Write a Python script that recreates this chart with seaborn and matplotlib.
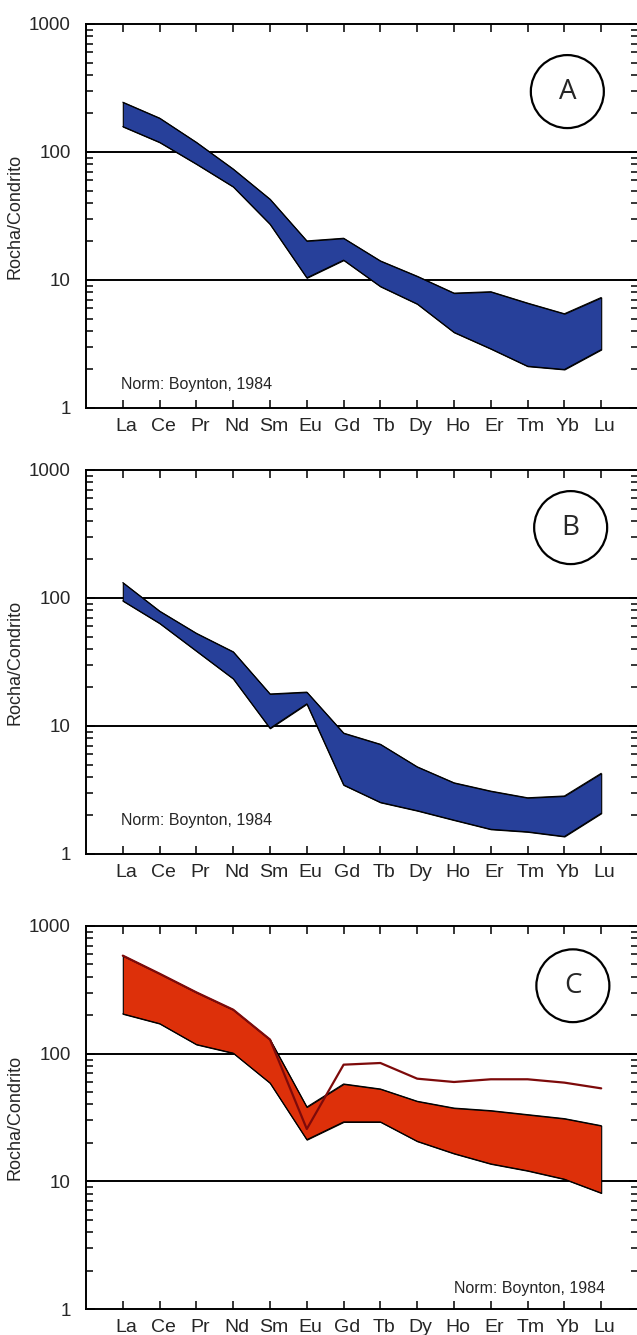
import numpy as np
import pandas as pd
import matplotlib
matplotlib.use("Agg")
import matplotlib.pyplot as plt
import matplotlib.transforms as mtransforms
from matplotlib.patches import Ellipse
from matplotlib.ticker import LogLocator, NullFormatter, FixedLocator
import seaborn as sns

# ------------------------------------------------------------
# Dados
# ------------------------------------------------------------
elements = ["La", "Ce", "Pr", "Nd", "Sm", "Eu", "Gd", "Tb", "Dy", "Ho", "Er", "Tm", "Yb", "Lu"]

a_upper = [245, 184, 119, 73.6, 42.8, 20.2, 21.2, 14.1, 10.7, 7.9, 8.1, 6.6, 5.45, 7.3]
a_lower = [158, 119, 80.5, 53.5, 27.3, 10.4, 14.3, 8.9, 6.5, 3.9, 2.9, 2.12, 2.0, 2.86]

b_upper = [132, 79, 53, 38, 17.8, 18.4, 8.8, 7.2, 4.8, 3.6, 3.1, 2.75, 2.84, 4.27]
b_lower = [95, 63.4, 38.5, 23.4, 9.6, 14.9, 3.46, 2.53, 2.18, 1.84, 1.56, 1.49, 1.37, 2.08]

c_upper = [586, 423, 302, 221, 129, 38.2, 57.9, 52.9, 42.4, 37.5, 35.8, 33.3, 31, 27.3]
c_lower = [205, 172, 118, 101, 58.9, 21.2, 29.2, 29.2, 20.6, 16.5, 13.7, 12.1, 10.4, 8.1]
c_line = [586, 423, 302, 221, 129, 25.7, 82, 84.5, 63.7, 60, 63, 63, 59.3, 53.5]

panel_letters = ["A", "B", "C"]
norm_text = "Norm: Boynton, 1984"

BLUE = "#27409a"
RED = "#dd300a"
MAROON = "#7d0a0a"

# ------------------------------------------------------------
# Estilo
# ------------------------------------------------------------
sns.set_style("ticks")
plt.rcParams["font.family"] = ["Liberation Sans", "DejaVu Sans"]

W, H = 637, 1335
fig = plt.figure(figsize=(W / 100, H / 100), dpi=100)

left = 86 / W
width = (638 - 86) / W
panels = [
    # (topo px, base px)
    (24, 408),
    (470, 854),
    (926, 1309),
]

x = np.arange(len(elements))


def montar_eixo(ax):
    ax.set_yscale("log")
    ax.set_ylim(1, 1000)
    ax.set_xlim(-1, len(elements))
    for sp in ax.spines.values():
        sp.set_linewidth(1.4)
        sp.set_color("black")
        sp.set_visible(True)
    ax.axhline(10, color="black", lw=1.4, zorder=1)
    ax.axhline(100, color="black", lw=1.4, zorder=1)

    ax.xaxis.set_major_locator(FixedLocator(x))
    ax.set_xticklabels(elements, fontsize=14)
    ax.tick_params(axis="x", which="major", direction="in", top=True, bottom=True,
                   length=6, width=1.3, pad=7)
    ax.yaxis.set_major_locator(FixedLocator([1, 10, 100, 1000]))
    ax.set_yticklabels(["1", "10", "100", "1000"], fontsize=13.5)
    ax.yaxis.set_minor_locator(LogLocator(base=10, subs=np.arange(2, 10)))
    ax.yaxis.set_minor_formatter(NullFormatter())
    ax.tick_params(axis="y", which="major", direction="in", left=True, right=True,
                   length=6.5, width=1.3, pad=11)
    ax.tick_params(axis="y", which="minor", direction="in", left=True, right=True,
                   length=5, width=1.3)
    ax.set_xlabel("")
    ax.set_ylabel("Rocha/Condrito", fontsize=13, labelpad=4)

    desloc = mtransforms.ScaledTranslation(0.035, 0, fig.dpi_scale_trans)
    for lab in ax.get_xticklabels():
        lab.set_transform(lab.get_transform() + desloc)


def banda(ax, upper, lower, cor):
    df = pd.DataFrame({
        "pos": np.concatenate([x, x]),
        "valor": upper + lower,
        "limite": ["sup"] * len(x) + ["inf"] * len(x),
    })
    ax.fill_between(x, lower, upper, facecolor=cor, edgecolor="black",
                    linewidth=0.8, zorder=2)
    sns.lineplot(data=df, x="pos", y="valor", hue="limite",
                 palette={"sup": "black", "inf": "black"}, linewidth=0.8,
                 legend=False, ax=ax, zorder=3)


def circulo(ax, cx, cy, letra):
    ell = Ellipse((cx, cy), 73 / 552, 73 / 384, transform=ax.transAxes,
                  facecolor="white", edgecolor="black", linewidth=1.6, zorder=5)
    ax.add_patch(ell)
    ax.text(cx, cy, letra, transform=ax.transAxes, ha="center", va="center",
            fontsize=20, family=["Open Sans", "DejaVu Sans"], zorder=6)


axes = []
for top, bot in panels:
    ax = fig.add_axes([left, (H - bot) / H, width, (bot - top) / H])
    axes.append(ax)

# Painel A
banda(axes[0], a_upper, a_lower, BLUE)
montar_eixo(axes[0])
circulo(axes[0], 0.872, 0.824, panel_letters[0])
axes[0].text(0.063, 0.049, norm_text, transform=axes[0].transAxes, fontsize=11.5,
             ha="left", va="baseline")

# Painel B
banda(axes[1], b_upper, b_lower, BLUE)
montar_eixo(axes[1])
circulo(axes[1], 0.878, 0.850, panel_letters[1])
axes[1].text(0.063, 0.0755, norm_text, transform=axes[1].transAxes, fontsize=11.5,
             ha="left", va="baseline")

# Painel C
banda(axes[2], c_upper, c_lower, RED)
sns.lineplot(x=x, y=c_line, color=MAROON, linewidth=1.6, ax=axes[2], zorder=4)
montar_eixo(axes[2])
circulo(axes[2], 0.882, 0.844, panel_letters[2])
axes[2].text(0.940, 0.042, norm_text, transform=axes[2].transAxes, fontsize=11.5,
             ha="right", va="baseline")

fig.savefig("out.png", dpi=100)
